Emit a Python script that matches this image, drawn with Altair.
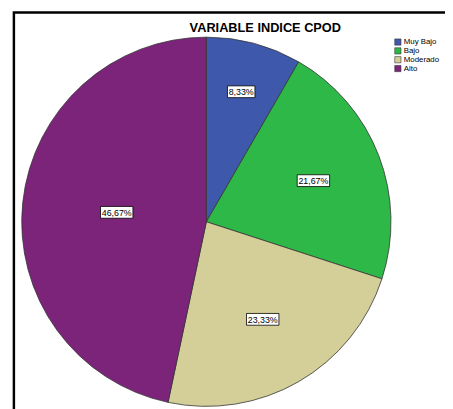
import altair as alt
import pandas as pd

categories = ["Muy Bajo", "Bajo", "Moderado", "Alto"]
percents = [8.33, 21.67, 23.33, 46.67]
labels = ["8,33%", "21,67%", "23,33%", "46,67%"]
colors = ["#3E58AC", "#2EB848", "#D4CF99", "#7B2479"]
title_text = "VARIABLE INDICE CPOD"

W, H = 445, 401
CX, CY, R = 202, 214, 188

df = pd.DataFrame({"cat": categories, "pct": percents, "label": labels,
                   "ord": list(range(len(categories)))})

base = alt.Chart(df)

color = alt.Color("cat:N", scale=alt.Scale(domain=categories, range=colors),
                  sort=categories,
                  legend=alt.Legend(title=None, orient="none", legendX=393, legendY=27,
                                    symbolType="square", symbolSize=40,
                                    symbolStrokeColor="#333", symbolStrokeWidth=0.6,
                                    labelFontSize=8, labelFont="Liberation Sans",
                                    labelColor="#000", labelOffset=2, rowPadding=-1.5,
                                    padding=0))

pie = base.mark_arc(outerRadius=R, stroke="#333", strokeWidth=0.8).encode(
    theta=alt.Theta("pct:Q", stack=True),
    color=color,
    order=alt.Order("ord:Q"),
    x=alt.value(CX), y=alt.value(CY),
)

pos = base.transform_joinaggregate(total="sum(pct)").transform_window(
    cum="sum(pct)", sort=[alt.SortField("ord")]
).transform_calculate(
    frac="datum.pct/datum.total",
).transform_calculate(
    ang="(datum.cum - datum.pct/2)/datum.total*2*PI",
    lr=f"{R}*(0.905 - 0.61*sqrt(datum.frac))",
    bw="length(datum.label)*5 + 3",
).transform_calculate(
    px=f"{CX} + datum.lr*sin(datum.ang)",
    py=f"{CY} - datum.lr*cos(datum.ang)",
).transform_calculate(
    x1="datum.px - datum.bw/2", x2="datum.px + datum.bw/2",
    y1="datum.py - 6", y2="datum.py + 6",
)

boxes = pos.mark_rect(fill="white", stroke="black", strokeWidth=0.8).encode(
    x=alt.X("x1:Q", scale=None, axis=None),
    x2="x2:Q",
    y=alt.Y("y1:Q", scale=None, axis=None),
    y2="y2:Q",
)

texts = pos.mark_text(font="Liberation Sans", fontSize=9, color="black", dy=0.5).encode(
    x=alt.X("px:Q", scale=None, axis=None),
    y=alt.Y("py:Q", scale=None, axis=None),
    text="label:N",
)

title = alt.Chart(pd.DataFrame({"t": [title_text]})).mark_text(
    font="Liberation Sans", fontSize=13, fontWeight="bold", color="black"
).encode(x=alt.value(262), y=alt.value(17), text="t:N")

border = alt.Chart(pd.DataFrame({"a": [0]})).mark_rect(
    fill=None, fillOpacity=0, stroke="black", strokeWidth=2.5
).encode(x=alt.value(6), y=alt.value(1), x2=alt.value(480), y2=alt.value(440))

chart = alt.layer(border, pie, boxes, texts, title).properties(
    width=W, height=H, autosize=alt.AutoSizeParams(type="none"), padding=0,
    background="white"
).configure_view(stroke=None)

chart.save("out.html", embed_options={"renderer": "svg", "actions": False})
